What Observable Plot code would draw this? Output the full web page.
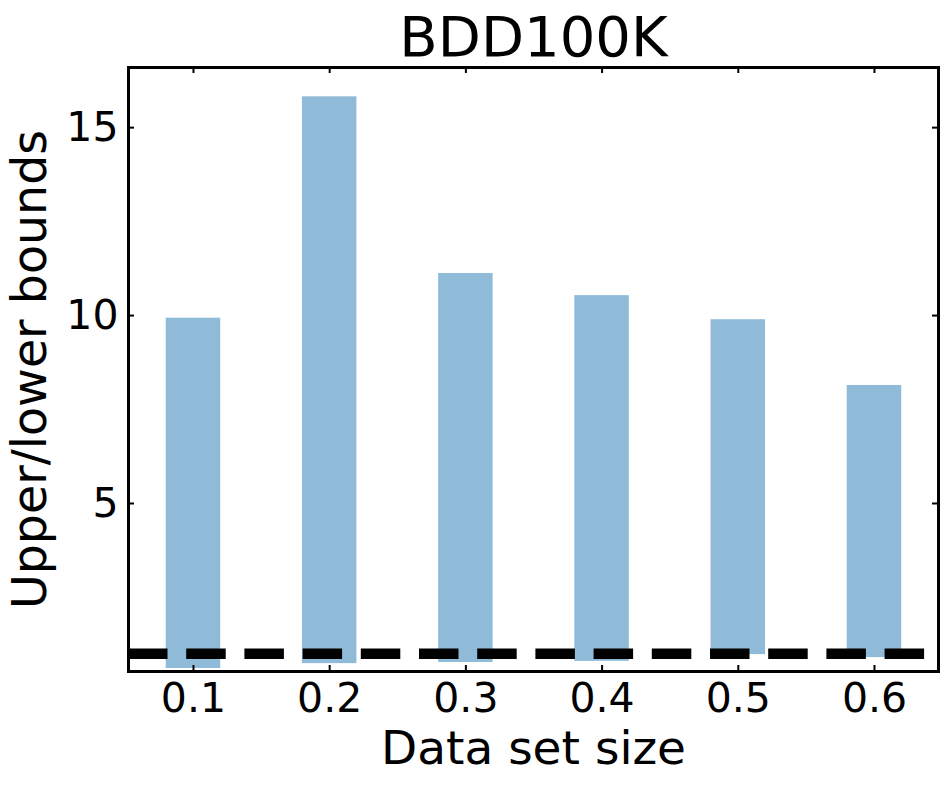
<!DOCTYPE html>
<html>
<head>
<meta charset="utf-8">
<script src="https://cdn.jsdelivr.net/npm/d3@7"></script>
<script src="https://cdn.jsdelivr.net/npm/@observablehq/plot@0.6"></script>
<style>
  html, body { margin: 0; padding: 0; background: #fff; }
  #chart { width: 952px; height: 787px; }
</style>
</head>
<body>
<div id="chart"></div>
<script>
const sizes = [0.1, 0.2, 0.3, 0.4, 0.5, 0.6];
const upperBounds = [9.93, 15.82, 11.12, 10.53, 9.89, 8.14];
const lowerBounds = [0.61, 0.74, 0.77, 0.80, 0.98, 0.90];
const referenceLevel = [1];
const xTicks = [0.1, 0.2, 0.3, 0.4, 0.5, 0.6];
const yTicks = [5, 10, 15];
const titleText = "BDD100K";
const xLabel = "Data set size";
const yLabel = "Upper/lower bounds";
const barWidth = 0.04;

const data = sizes.map((s, i) => ({size: s, upper: upperBounds[i], lower: lowerBounds[i]}));

const W = 952, H = 787;
const mL = 128, mR = 14, mT = 67, mB = 116;
const frameW = W - mL - mR, frameH = H - mT - mB;
const tickLen = 6;

const chart = Plot.plot({
  width: W,
  height: H,
  marginLeft: mL,
  marginRight: mR,
  marginTop: mT,
  marginBottom: mB,
  style: {fontFamily: "'DejaVu Sans', sans-serif", fontSize: "41px", color: "black", background: "white"},
  x: {type: "linear", domain: [0.0523, 0.647]},
  y: {type: "linear", domain: [0.53, 16.6]},
  marks: [
    Plot.rectY(data, {
      x1: d => d.size - barWidth / 2,
      x2: d => d.size + barWidth / 2,
      y1: "lower",
      y2: "upper",
      fill: "#1f77b4",
      fillOpacity: 0.5
    }),
    Plot.ruleY(referenceLevel, {stroke: "black", strokeWidth: 10.5, strokeDasharray: "39.5,18.7"}),
    Plot.frame({stroke: "black", strokeWidth: 3}),
    Plot.tickX(xTicks, {x: d => d, stroke: "black", strokeWidth: 2, insetTop: frameH - tickLen}),
    Plot.tickX(xTicks, {x: d => d, stroke: "black", strokeWidth: 2, insetBottom: frameH - tickLen}),
    Plot.tickY(yTicks, {y: d => d, stroke: "black", strokeWidth: 2, insetRight: frameW - tickLen}),
    Plot.tickY(yTicks, {y: d => d, stroke: "black", strokeWidth: 2, insetLeft: frameW - tickLen}),
    Plot.axisX({ticks: xTicks, tickSize: 0, tickPadding: 11, fontSize: 41, tickFormat: d => d.toFixed(1), label: null}),
    Plot.axisY({ticks: yTicks, tickSize: 0, tickPadding: 10, fontSize: 41, tickFormat: d => String(d), label: null}),
    Plot.text([titleText], {text: d => d, frameAnchor: "top", dy: -12, lineAnchor: "bottom", fontSize: 56, fill: "black"}),
    Plot.text([xLabel], {text: d => d, frameAnchor: "bottom", dy: 92, lineAnchor: "bottom", fontSize: 47, fill: "black"}),
    Plot.text([yLabel], {text: d => d, frameAnchor: "left", dx: -83, rotate: -90, textAnchor: "middle", lineAnchor: "bottom", fontSize: 47.5, fill: "black"})
  ]
});
document.getElementById("chart").appendChild(chart);
</script>
</body>
</html>
